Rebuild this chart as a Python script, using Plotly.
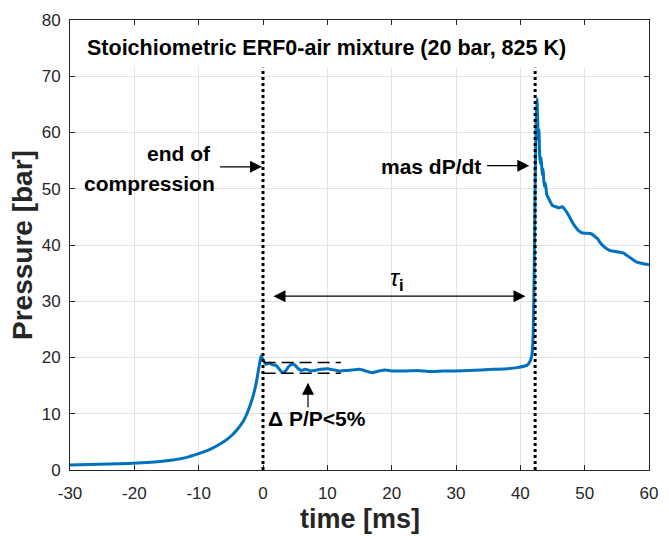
import plotly.graph_objects as go

# ---- data ----
time_ms = [-30, -27, -24, -21, -18, -16, -14, -12, -10, -9, -8, -7, -6, -5, -4, -3, -2.5, -2, -1.5, -1,
           -0.6, -0.3, 0, 0.5, 1, 1.5, 2, 2.5,
           3, 3.5, 4, 4.5, 5, 5.5, 6, 6.5, 7, 7.5, 8, 9, 10, 11, 12, 13, 14, 15, 16, 17, 18, 19, 20,
           22, 24, 26, 28, 30, 32, 34, 36, 38, 39.5, 41.0, 41.5, 41.8, 42.0, 42.15, 42.3, 42.45,
           42.6, 42.7, 42.8, 42.9, 43.0, 43.1, 43.25, 43.4, 43.55, 43.7, 43.9, 44.1, 44.3,
           44.6, 45, 45.5, 46, 46.5, 47, 47.5, 48, 48.5, 49, 49.5, 50, 50.5, 51, 51.5, 52, 52.5, 53,
           53.5, 54, 55, 56, 56.5, 57, 57.5, 58, 59, 60]
pressure_bar = [0.9, 1.0, 1.06, 1.17, 1.33, 1.5, 1.78, 2.2, 2.9, 3.3, 3.8, 4.4, 5.1, 6.0, 7.2, 8.8, 10.0,
                11.5, 13.3, 15.8, 18.5, 20.3, 19.6,
                18.8, 19.0, 18.7, 18.6, 18.0, 17.3, 17.6, 18.4, 18.8, 18.6, 18.0, 17.7, 17.9, 17.8, 17.6,
                17.7, 17.9, 18.0, 17.8, 17.6, 17.7, 17.8, 17.9, 17.6, 17.3, 17.6, 17.8, 17.6,
                17.6, 17.7, 17.5, 17.6, 17.6, 17.7, 17.8, 17.9, 18.0, 18.2, 18.6, 19.3, 20.5, 24.0, 35.0, 50.0, 62.0,
                66.0, 62.0, 58.5, 60.5, 56.0, 54.5, 55.5, 52.5, 53.5, 50.5, 51.0, 49.0, 48.5, 47.8,
                47.0, 46.8, 46.6, 46.8, 46.2, 45.3, 44.2, 43.3, 42.6, 42.2, 42.1, 42.1, 42.0, 41.6, 41.1, 40.3, 39.7, 39.3,
                39.0, 38.8, 38.6, 38.2, 37.8, 37.4, 37.0, 36.7, 36.5, 36.3]

x_ticks = [-30, -20, -10, 0, 10, 20, 30, 40, 50, 60]
x_tick_labels = ["-30", "-20", "-10", "0", "10", "20", "30", "40", "50", "60"]
y_ticks = [0, 10, 20, 30, 40, 50, 60, 70, 80]
eoc_time = 0.0          # end of compression
ign_time = 42.3         # max dP/dt
dp_band = [17.2, 19.1]  # +-5% band
dp_band_start = 0.1
dp_band_end = 12.1

BLUE = "#0072BD"
FONT = "Liberation Sans, Arial, sans-serif"
TXT = "#000000"
AX = "#262626"

fig = go.Figure()
fig.add_trace(go.Scatter(x=time_ms, y=pressure_bar, mode="lines", line_shape="spline",
                         line=dict(color=BLUE, width=3, smoothing=0.4), showlegend=False, hoverinfo="skip"))

shapes = []
# white box behind the title (hides the grid)
shapes.append(dict(type="rect", xref="x", yref="y", x0=-30, x1=60, y0=71.6, y1=80,
                   fillcolor="white", line=dict(width=0), layer="between"))
for t in (eoc_time, ign_time):
    shapes.append(dict(type="line", xref="x", yref="y", x0=t, x1=t, y0=0, y1=71.5,
                       line=dict(color="black", width=3, dash="dot"), layer="above"))
for yv in dp_band:
    shapes.append(dict(type="line", xref="x", yref="y", x0=dp_band_start, x1=dp_band_end, y0=yv, y1=yv,
                       line=dict(color="black", width=1.6, dash="12px,6px"), layer="above"))

ann = []
bold = dict(family=FONT, size=21, color=TXT, weight="bold")
ann.append(dict(x=-27.7, y=75.1, xref="x", yref="y", text="Stoichiometric ERF0-air mixture (20 bar, 825 K)",
                showarrow=False, xanchor="left", yanchor="middle",
                font=dict(family=FONT, size=21.5, color=TXT, weight="bold")))
ann.append(dict(x=-7.8, y=56.3, xref="x", yref="y", text="end of", showarrow=False,
                xanchor="right", yanchor="middle", font=bold))
ann.append(dict(x=-7.2, y=50.9, xref="x", yref="y", text="compression", showarrow=False,
                xanchor="right", yanchor="middle", font=bold))
ann.append(dict(x=34.25, y=53.9, xref="x", yref="y", text="mas dP/dt", showarrow=False,
                xanchor="right", yanchor="middle", font=bold))
ann.append(dict(x=0.4, y=9.2, xref="x", yref="y", text="Δ P/P<5%", showarrow=False,
                xanchor="left", yanchor="middle", font=bold))
ann.append(dict(x=20.8, y=33.9, xref="x", yref="y",
                text="<i>τ</i><sub><b>i</b></sub>", showarrow=False,
                xanchor="center", yanchor="middle", font=dict(family=FONT, size=24, color=TXT)))

def arrow(x0, y0, x1, y1, side="end"):
    return dict(x=x1, y=y1, ax=x0, ay=y0, xref="x", yref="y", axref="x", ayref="y",
                text="", showarrow=True, arrowhead=2, arrowside=side, arrowsize=2.0,
                arrowwidth=1.2, arrowcolor="black", standoff=0, startstandoff=0)

ann.append(arrow(-6.9, 53.9, -0.15, 53.9))
ann.append(arrow(34.6, 54.1, 41.4, 54.1))
ann.append(arrow(1.4, 30.9, 40.8, 30.9, side="end+start"))
ann.append(arrow(7.0, 10.9, 7.0, 15.5))

# axis titles
ann.append(dict(x=0.5, y=0, xref="paper", yref="paper", yshift=-49, text="time [ms]", showarrow=False,
                xanchor="center", yanchor="middle",
                font=dict(family=FONT, size=27, color=AX, weight="bold")))
ann.append(dict(x=0, y=0.5, xref="paper", yref="paper", xshift=-48, text="Pressure [bar]", showarrow=False,
                xanchor="center", yanchor="middle", textangle=-90,
                font=dict(family=FONT, size=28, color=AX, weight="bold")))

axis_common = dict(showline=True, linecolor=AX, linewidth=1, mirror="ticks", ticks="inside",
                   ticklen=5, tickcolor=AX, showgrid=True, gridcolor="#e3e3e3", gridwidth=1,
                   zeroline=False, tickfont=dict(family=FONT, size=17, color=AX))

fig.update_layout(
    width=669, height=536,
    margin=dict(l=70, r=11, t=14, b=66),
    paper_bgcolor="white", plot_bgcolor="white",
    xaxis=dict(range=[-30, 60], tickvals=x_ticks, ticktext=x_tick_labels, ticklabelstandoff=8,
               **axis_common),
    yaxis=dict(range=[0, 80], tickvals=y_ticks, ticklabelstandoff=5, **axis_common),
    shapes=shapes, annotations=ann, showlegend=False,
)

fig.write_html("out.html")
